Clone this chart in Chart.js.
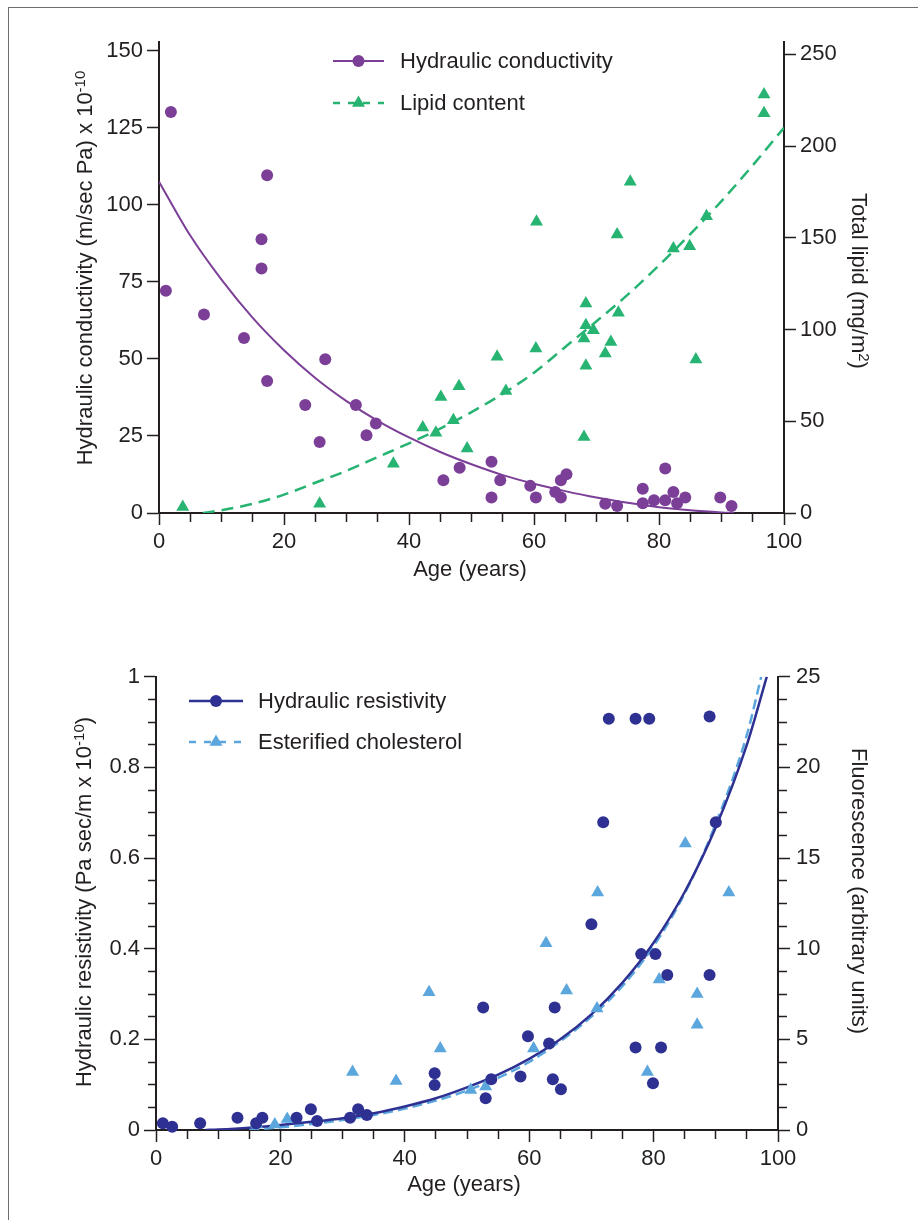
<!DOCTYPE html>
<html>
<head>
<meta charset="utf-8">
<script src="https://cdn.jsdelivr.net/npm/chart.js@4.4.1/dist/chart.umd.min.js"></script>
<style>
  html, body { margin: 0; padding: 0; background: #fff; }
  body { width: 918px; height: 1220px; position: relative; overflow: hidden; }
  #frame { position: absolute; left: 8px; top: 7px; width: 930px; height: 1230px;
           border-left: 1.5px solid #6d6e71; border-top: 1.5px solid #6d6e71; }
  .box { position: absolute; left: 0; width: 918px; height: 600px; }
  #topBox { top: 0; }
  #bottomBox { top: 620px; }
</style>
</head>
<body>
<div id="frame"></div>
<div class="box" id="topBox"><canvas id="topChart" width="918" height="600"></canvas></div>
<div class="box" id="bottomBox"><canvas id="bottomChart" width="918" height="600"></canvas></div>
<script>
// ---- top panel: hydraulic conductivity (left) vs lipid content (right) ----
const conductAge = [1.9, 17.3, 16.4, 16.4, 1.1, 7.2, 13.6, 17.3, 26.6, 23.4, 25.7, 31.5, 34.7, 33.2, 45.5, 48.1,
  53.2, 53.2, 54.6, 59.4, 60.3, 63.4, 64.3, 65.2, 64.3, 71.4, 73.3, 77.4, 77.4, 79.2, 81.0, 81.0, 82.3, 82.9, 84.2, 89.8, 91.6];
const conductValue = [130.1, 109.6, 88.8, 79.3, 72.1, 64.4, 56.8, 42.8, 49.9, 35.0, 23.0, 35.0, 29.0, 25.2, 10.6, 14.7,
  16.6, 5.0, 10.6, 8.8, 5.0, 6.8, 10.6, 12.6, 5.0, 3.0, 2.3, 7.9, 3.2, 4.1, 14.4, 4.1, 6.8, 3.2, 5.0, 5.0, 2.3];

const lipidAge = [3.8, 25.7, 37.5, 42.2, 44.3, 45.1, 47.1, 48.0, 49.3, 54.1, 55.5, 60.3, 60.4, 68.0, 68.0,
  68.3, 68.3, 68.3, 69.5, 71.4, 72.3, 73.3, 73.5, 75.4, 82.3, 84.9, 85.9, 87.6, 96.8, 96.8];
const lipidValue = [3.3, 5.1, 26.9, 46.6, 43.8, 63.2, 50.5, 69.1, 35.1, 85.1, 66.5, 89.6, 158.7, 41.4, 95.1,
  114.2, 102.3, 80.2, 99.6, 86.9, 93.2, 151.8, 109.1, 180.5, 144.2, 145.4, 83.6, 161.8, 228.1, 217.8];

const conductFitAge = [0, 5, 10, 15, 20, 25, 30, 35, 40, 45, 50, 55, 60, 65, 70, 75, 80, 85, 90, 92];
const conductFitValue = [107.5, 90, 75.7, 63.3, 52.8, 43.8, 36.3, 29.9, 24.5, 19.8, 15.8, 12.3, 9.5, 7.1, 5.0, 3.3, 1.9, 0.9, 0.2, 0];

const lipidFitAge = [7, 10, 15, 20, 25, 30, 35, 40, 45, 50, 55, 60, 65, 70, 75, 80, 85, 90, 95, 100];
const lipidFitValue = [0, 1.5, 5, 10, 16.5, 23, 30.5, 38, 46, 55, 65, 76.5, 90.5, 104.5, 119, 135, 152, 170, 189.5, 210];

// ---- bottom panel: hydraulic resistivity (left) vs esterified cholesterol (right) ----
const resistAge = [1.1, 2.6, 7.1, 13.1, 16.1, 17.1, 22.6, 24.9, 25.9, 31.2, 32.5, 33.9, 44.8, 44.8, 52.6, 53.0,
  53.9, 58.6, 59.8, 63.2, 64.1, 63.8, 65.1, 77.1, 78.0, 80.3, 82.2, 81.2, 79.9, 89.0, 72.8, 77.1, 79.3, 89.0, 71.9, 90.0, 70.0];
const resistValue = [0.015, 0.007, 0.015, 0.027, 0.015, 0.027, 0.027, 0.046, 0.020, 0.027, 0.046, 0.033, 0.125, 0.099, 0.270, 0.070,
  0.112, 0.118, 0.207, 0.191, 0.270, 0.112, 0.090, 0.182, 0.388, 0.388, 0.342, 0.182, 0.103, 0.342, 0.907, 0.907, 0.907, 0.912, 0.679, 0.679, 0.454];

const esterAge = [16.2, 19.1, 21.1, 31.6, 38.6, 43.9, 45.7, 50.6, 53.0, 62.7, 60.7, 66.0, 70.9, 79.0, 80.9, 87.0, 87.0, 85.1, 92.1, 71.0];
const esterValue = [0.3, 0.3, 0.6, 3.2, 2.7, 7.6, 4.5, 2.2, 2.4, 10.3, 4.5, 7.7, 6.7, 3.2, 8.3, 7.5, 5.8, 15.8, 13.1, 13.1];

const resistFitAge = [8, 10, 15, 20, 25, 30, 35, 40, 45, 50, 55, 60, 65, 70, 75, 80, 85, 90, 95, 98.2];
const resistFitValue = [0, 0.001, 0.005, 0.011, 0.018, 0.026, 0.037, 0.052, 0.070, 0.094, 0.122, 0.157, 0.200, 0.255, 0.325, 0.413, 0.525, 0.668, 0.85, 1.0];

const esterFitAge = [15, 20, 25, 30, 35, 40, 45, 50, 55, 60, 65, 70, 75, 80, 85, 90, 95, 97.3];
const esterFitValue = [0, 0.15, 0.33, 0.55, 0.83, 1.18, 1.62, 2.18, 2.88, 3.75, 4.9, 6.25, 7.95, 10.15, 13.05, 16.9, 21.8, 25];

// ---- ticks ----
const ageTicks = [0, 5, 10, 15, 20, 25, 30, 35, 40, 45, 50, 55, 60, 65, 70, 75, 80, 85, 90, 95, 100];
const ageLabels = [0, 20, 40, 60, 80, 100];
const conductTicks = [0, 25, 50, 75, 100, 125, 150];
const lipidTicks = [0, 50, 100, 150, 200, 250];
const resistTicks = [0, 0.05, 0.1, 0.15, 0.2, 0.25, 0.3, 0.35, 0.4, 0.45, 0.5, 0.55, 0.6, 0.65, 0.7, 0.75, 0.8, 0.85, 0.9, 0.95, 1];
const resistLabelValues = [0, 0.2, 0.4, 0.6, 0.8, 1];
const resistLabelText = ['0', '0.2', '0.4', '0.6', '0.8', '1'];
const fluorTicks = [0, 1.25, 2.5, 3.75, 5, 6.25, 7.5, 8.75, 10, 11.25, 12.5, 13.75, 15, 16.25, 17.5, 18.75, 20, 21.25, 22.5, 23.75, 25];
const fluorLabels = [0, 5, 10, 15, 20, 25];

const INK = '#231f20';
const PURPLE = '#7b3f98';
const GREEN = '#27b472';
const NAVY = '#2e3192';
const SKY = '#5aa6dd';
const FONT = '"Liberation Sans", Arial, Helvetica, sans-serif';
const TEXT_SIZE = 22;

Chart.defaults.font.family = FONT;
Chart.defaults.color = INK;

const zip = (xs, ys) => xs.map((x, i) => ({ x, y: ys[i] }));

function setTicks(list) {
  return scale => { scale.ticks = list.map(v => ({ value: v })); };
}

// minor ticks: shorter, drawn by dashing the tick line
function axis(opts) {
  const { ticks, labels, labelText, min, max, position, fit, isX, pad } = opts;
  const isMajor = v => labels.indexOf(v) >= 0;
  return {
    type: 'linear',
    position,
    min, max,
    afterBuildTicks: setTicks(ticks),
    afterFit: s => { if (isX) s.height = fit; else s.width = fit; },
    ticks: {
      autoSkip: false,
      maxRotation: 0,
      padding: pad,
      color: INK,
      font: { family: FONT, size: TEXT_SIZE },
      callback: v => {
        const i = labels.indexOf(v);
        if (i < 0) return '';
        return labelText ? labelText[i] : String(v);
      }
    },
    grid: {
      drawOnChartArea: false,
      drawTicks: true,
      tickLength: 12,
      tickWidth: 1.5,
      tickColor: INK,
      tickBorderDash: ctx => {
        if (!ctx.tick || isMajor(ctx.tick.value)) return [];
        return position === 'left' ? [0, 4, 8, 40] : [8, 40];
      }
    },
    border: { display: true, color: INK, width: 2 }
  };
}

function drawRich(ctx, parts, cx, cy, rot) {
  ctx.save();
  ctx.translate(cx, cy);
  ctx.rotate(rot);
  let total = 0;
  const widths = parts.map(p => {
    ctx.font = (p.sup ? 15 : TEXT_SIZE) + 'px ' + FONT;
    const w = ctx.measureText(p.t).width;
    total += w;
    return w;
  });
  let x = -total / 2;
  ctx.fillStyle = INK;
  ctx.textAlign = 'left';
  ctx.textBaseline = 'alphabetic';
  parts.forEach((p, i) => {
    ctx.font = (p.sup ? 15 : TEXT_SIZE) + 'px ' + FONT;
    ctx.fillText(p.t, x, p.sup ? 1 : 8);
    x += widths[i];
  });
  ctx.restore();
}

function drawMarker(ctx, style, x, y, r, color) {
  ctx.fillStyle = color;
  ctx.beginPath();
  if (style === 'triangle') {
    for (let k = 0; k < 3; k++) {
      const a = k * 2 * Math.PI / 3;
      const px = x + Math.sin(a) * r, py = y - Math.cos(a) * r;
      if (k === 0) ctx.moveTo(px, py); else ctx.lineTo(px, py);
    }
    ctx.closePath();
  } else {
    ctx.arc(x, y, r, 0, Math.PI * 2);
  }
  ctx.fill();
}

function decor(titles, legend) {
  return {
    id: 'decor',
    afterDraw(chart) {
      const ctx = chart.ctx;
      ctx.save();
      titles.forEach(t => drawRich(ctx, t.parts, t.x, t.y, t.rot));
      legend.forEach(it => {
        ctx.strokeStyle = it.color;
        ctx.lineWidth = it.width;
        ctx.setLineDash(it.dash || []);
        ctx.beginPath();
        ctx.moveTo(it.x0, it.y);
        ctx.lineTo(it.x1, it.y);
        ctx.stroke();
        ctx.setLineDash([]);
        drawMarker(ctx, it.style, (it.x0 + it.x1) / 2, it.y, it.r, it.color);
        ctx.fillStyle = INK;
        ctx.font = TEXT_SIZE + 'px ' + FONT;
        ctx.textAlign = 'left';
        ctx.textBaseline = 'alphabetic';
        ctx.fillText(it.label, it.tx, it.y + 7);
      });
      ctx.restore();
    }
  };
}

function points(data, axisId, style, r, color) {
  return {
    data, yAxisID: axisId, showLine: false, clip: false, order: 0,
    pointStyle: style, pointRadius: r, pointHoverRadius: r,
    pointBackgroundColor: color, pointBorderWidth: 0, backgroundColor: color, borderColor: color
  };
}

function fit(data, axisId, color, width, dash) {
  return {
    data, yAxisID: axisId, showLine: true, order: 1,
    pointRadius: 0, pointHoverRadius: 0, borderColor: color, borderWidth: width,
    borderDash: dash || [], cubicInterpolationMode: 'monotone', fill: false
  };
}

const common = {
  responsive: false,
  animation: false,
  devicePixelRatio: 1,
  plugins: { legend: { display: false }, tooltip: { enabled: false } }
};

new Chart(document.getElementById('topChart'), {
  type: 'scatter',
  data: {
    datasets: [
      points(zip(conductAge, conductValue), 'y', 'circle', 6, PURPLE),
      points(zip(lipidAge, lipidValue), 'y2', 'triangle', 7.5, GREEN),
      fit(zip(conductFitAge, conductFitValue), 'y', PURPLE, 2),
      fit(zip(lipidFitAge, lipidFitValue), 'y2', GREEN, 2.5, [12, 7])
    ]
  },
  options: Object.assign({}, common, {
    layout: { padding: { top: 42, left: 0, right: 0, bottom: 0 } },
    scales: {
      x: axis({ ticks: ageTicks, labels: ageLabels, min: 0, max: 100, position: 'bottom', fit: 87, isX: true, pad: 4 }),
      y: axis({ ticks: conductTicks, labels: conductTicks, min: 0, max: 152.8, position: 'left', fit: 159, pad: 4 }),
      y2: axis({ ticks: lipidTicks, labels: lipidTicks, min: 0, max: 256.7, position: 'right', fit: 134, pad: 4 })
    }
  }),
  plugins: [decor(
    [
      { parts: [{ t: 'Hydraulic conductivity (m/sec Pa) x 10' }, { t: '-10', sup: true }], x: 84, y: 268, rot: -Math.PI / 2 },
      { parts: [{ t: 'Total lipid (mg/m' }, { t: '2', sup: true }, { t: ')' }], x: 860, y: 281, rot: Math.PI / 2 },
      { parts: [{ t: 'Age (years)' }], x: 470, y: 568, rot: 0 }
    ],
    [
      { label: 'Hydraulic conductivity', color: PURPLE, width: 2, style: 'circle', r: 6, x0: 333, x1: 384, y: 61, tx: 400 },
      { label: 'Lipid content', color: GREEN, width: 2.5, dash: [7, 8], style: 'triangle', r: 7.5, x0: 333, x1: 384, y: 103, tx: 400 }
    ]
  )]
});

new Chart(document.getElementById('bottomChart'), {
  type: 'scatter',
  data: {
    datasets: [
      points(zip(resistAge, resistValue), 'y', 'circle', 6, NAVY),
      points(zip(esterAge, esterValue), 'y2', 'triangle', 7.5, SKY),
      fit(zip(resistFitAge, resistFitValue), 'y', NAVY, 2.5),
      fit(zip(esterFitAge, esterFitValue), 'y2', SKY, 2.5, [10, 5])
    ]
  },
  options: Object.assign({}, common, {
    layout: { padding: { top: 56.7, left: 0, right: 0, bottom: 0 } },
    scales: {
      x: axis({ ticks: ageTicks, labels: ageLabels, min: 0, max: 100, position: 'bottom', fit: 90, isX: true, pad: 4 }),
      y: axis({ ticks: resistTicks, labels: resistLabelValues, labelText: resistLabelText, min: 0, max: 1, position: 'left', fit: 156, pad: 4 }),
      y2: axis({ ticks: fluorTicks, labels: fluorLabels, min: 0, max: 25, position: 'right', fit: 140, pad: 6 })
    }
  }),
  plugins: [decor(
    [
      { parts: [{ t: 'Hydraulic resistivity (Pa sec/m x 10' }, { t: '-10', sup: true }, { t: ')' }], x: 83, y: 282, rot: -Math.PI / 2 },
      { parts: [{ t: 'Fluorescence (arbitrary units)' }], x: 860, y: 271, rot: Math.PI / 2 },
      { parts: [{ t: 'Age (years)' }], x: 464, y: 563, rot: 0 }
    ],
    [
      { label: 'Hydraulic resistivity', color: NAVY, width: 2.5, style: 'circle', r: 6, x0: 189, x1: 243, y: 81, tx: 258 },
      { label: 'Esterified cholesterol', color: SKY, width: 2.5, dash: [7, 8], style: 'triangle', r: 7.5, x0: 189, x1: 243, y: 122, tx: 258 }
    ]
  )]
});
</script>
</body>
</html>
